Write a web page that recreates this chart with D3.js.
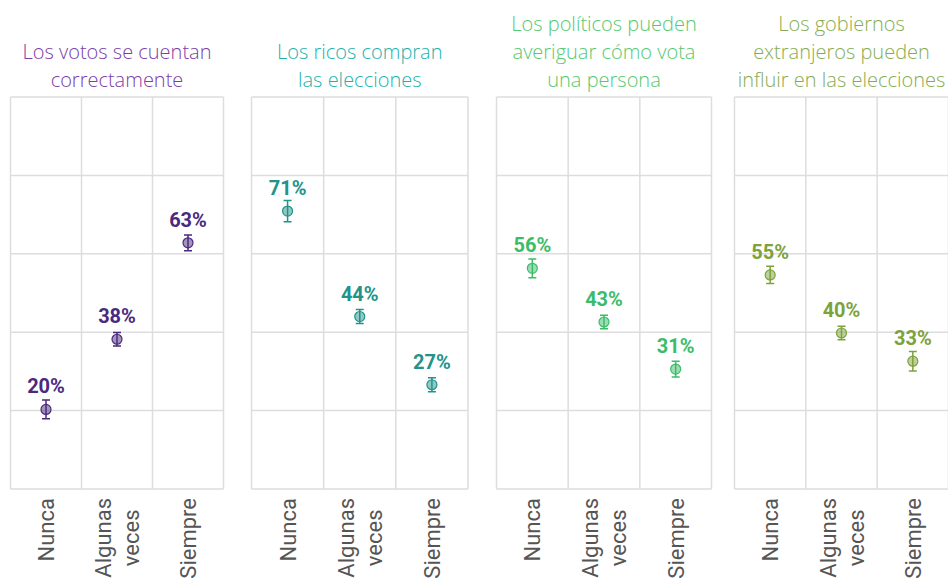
<!DOCTYPE html>
<html>
<head>
<meta charset="utf-8">
<style>
  body { margin: 0; background: #fff; }
  svg { display: block; }
</style>
</head>
<body>
<div id="chart"></div>
<script src="https://d3js.org/d3.v7.min.js"></script>
<script>
// titles of the four panels, one entry per line
const titles = [
  ["Los votos se cuentan", "correctamente"],
  ["Los ricos compran", "las elecciones"],
  ["Los políticos pueden", "averiguar cómo vota", "una persona"],
  ["Los gobiernos", "extranjeros pueden", "influir en las elecciones"]
];
const categories = ["Nunca", "Algunas veces", "Siempre"];
const categoryLines = [["Nunca"], ["Algunas", "veces"], ["Siempre"]];

// share (%) per panel, in category order
const votos    = [20.3, 38.2, 62.8];
const ricos    = [70.9, 44.0, 26.6];
const politicos = [56.3, 42.6, 30.6];
const gobiernos = [54.6, 39.8, 32.6];
// margin of error (+/- %)
const votosErr    = [2.4, 1.7, 2.0];
const ricosErr    = [2.7, 1.8, 1.8];
const politicosErr = [2.4, 1.7, 2.0];
const gobiernosErr = [2.2, 1.7, 2.5];
const yTicks = [0, 20, 40, 60, 80, 100];

const series = [votos, ricos, politicos, gobiernos];
const errors = [votosErr, ricosErr, politicosErr, gobiernosErr];
const titleColors = ["#7b40a8", "#22b2ad", "#55c970", "#85ad50"];
const markColors  = ["#4a2a7e", "#21938a", "#3cbc69", "#7ca23c"];

const width = 948, height = 582;
const panelLeft = [10.5, 251.5, 496.5, 734.5];
const panelWidth = [213, 216.5, 215, 214];

const svg = d3.select("#chart").append("svg")
  .attr("width", width)
  .attr("height", height);

const y = d3.scaleLinear().domain([0, 100]).range([489, 97]);
const fmt = d => Math.round(d) + "%";

series.forEach((vals, p) => {
  const panelW = panelWidth[p];
  const x = d3.scaleBand().domain(categories).range([0, panelW]);
  const g = svg.append("g").attr("transform", "translate(" + panelLeft[p] + ",0)");

  // grid
  g.selectAll(".hline").data(yTicks).enter().append("line")
    .attr("x1", 0).attr("x2", panelW)
    .attr("y1", d => y(d)).attr("y2", d => y(d))
    .attr("stroke", "#dddddd").attr("stroke-width", 1.5);
  const vx = categories.map(c => x(c)).concat([panelW]);
  g.selectAll(".vline").data(vx).enter().append("line")
    .attr("x1", d => d).attr("x2", d => d)
    .attr("y1", y(0)).attr("y2", y(100))
    .attr("stroke", "#dddddd").attr("stroke-width", 1.5);

  // title
  const tl = titles[p];
  g.append("text")
    .attr("x", panelW / 2)
    .attr("text-anchor", "middle")
    .style("font-family", "'Open Sans', Lato, sans-serif")
    .style("font-size", "20px")
    .style("font-weight", 300)
    .attr("fill", titleColors[p])
    .selectAll("tspan").data(tl).enter().append("tspan")
      .attr("x", panelW / 2)
      .attr("y", (d, i) => 87 - (tl.length - 1 - i) * 28)
      .text(d => d);

  const rows = categories.map((c, i) => ({ c, v: vals[i], e: errors[p][i] }));
  const cx = d => x(d.c) + x.bandwidth() / 2;

  // error bars
  g.selectAll(".err").data(rows).enter().append("path")
    .attr("d", d => {
      const x0 = cx(d), y1 = y(d.v + d.e), y2 = y(d.v - d.e);
      return "M" + (x0 - 4) + "," + y1 + "H" + (x0 + 4) +
             "M" + x0 + "," + y1 + "V" + y2 +
             "M" + (x0 - 4) + "," + y2 + "H" + (x0 + 4);
    })
    .attr("fill", "none")
    .attr("stroke", markColors[p])
    .attr("stroke-width", 1.5);

  g.selectAll(".pt").data(rows).enter().append("circle")
    .attr("cx", cx).attr("cy", d => y(d.v)).attr("r", 5)
    .attr("fill", markColors[p]).attr("fill-opacity", 0.5)
    .attr("stroke", markColors[p]).attr("stroke-width", 1.2);

  g.selectAll(".lbl").data(rows).enter().append("text")
    .attr("x", cx).attr("y", d => y(d.v) - 16)
    .attr("text-anchor", "middle")
    .style("font-family", "Roboto, sans-serif")
    .style("font-size", "20px")
    .style("font-weight", 700)
    .attr("fill", markColors[p])
    .text(d => fmt(d.v));

  // category labels, rotated
  categories.forEach((c, i) => {
    const lines = categoryLines[i];
    const t = g.append("g")
      .attr("transform", "translate(" + (x(c) + x.bandwidth() / 2) + ",498) rotate(-90)");
    const txt = t.selectAll("text").data(lines).enter().append("text")
      .attr("y", (d, k) => 8 + (k - (lines.length - 1) / 2) * 28)
      .style("font-family", "Roboto, sans-serif")
      .style("font-size", "22px")
      .attr("fill", "#555555")
      .text(d => d);
    const maxLen = d3.max(txt.nodes(), n => n.getComputedTextLength());
    txt.attr("text-anchor", "middle").attr("x", -maxLen / 2);
  });
});
</script>
</body>
</html>
